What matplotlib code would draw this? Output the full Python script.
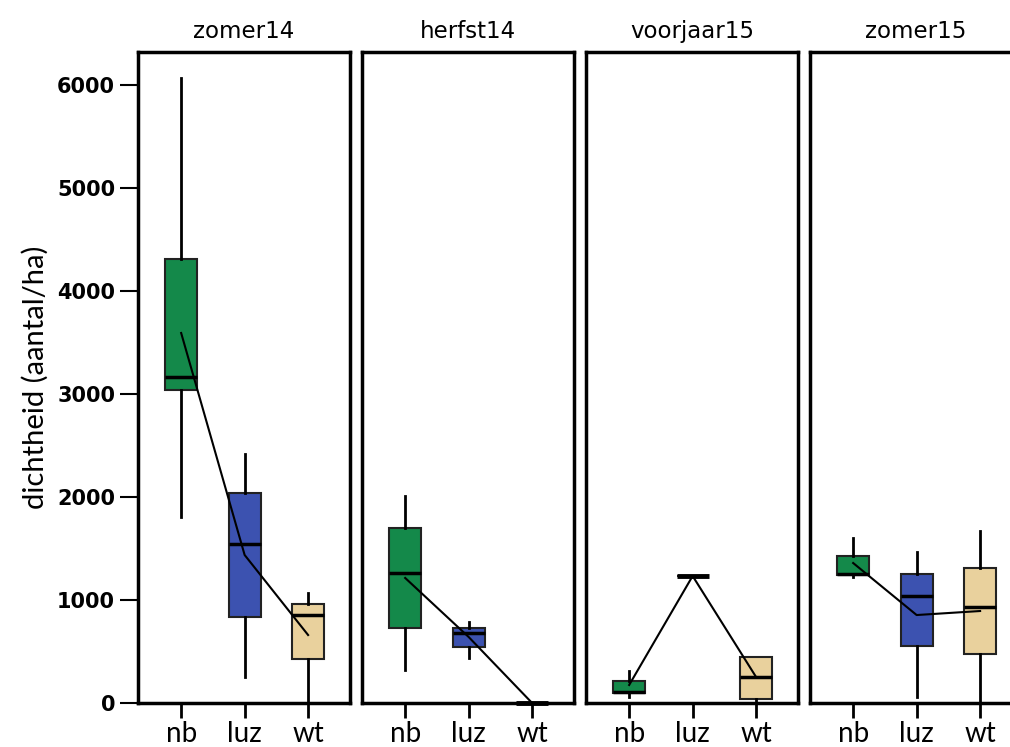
import matplotlib
matplotlib.use("Agg")
import matplotlib.pyplot as plt

# seizoenen en groepen
seizoenen = ['zomer14', 'herfst14', 'voorjaar15', 'zomer15']
groepen = ['nb', 'luz', 'wt']
kleuren = ['#14894a', '#3c52b0', '#e9d19d']

# per seizoen: [nb, luz, wt] -> (min, q1, mediaan, q3, max)
zomer14 = [(1806, 3039, 3165, 4310, 6068), (252, 835, 1544, 2039, 2417), (0, 427, 854, 961, 1068)]
herfst14 = [(320, 728, 1262, 1699, 2010), (437, 544, 680, 728, 786), (0, 0, 0, 0, 0)]
voorjaar15 = [(58, 97, 107, 214, 311), (1233, 1233, 1233, 1233, 1233), (0, 39, 252, 447, 447)]
zomer15 = [(1223, 1243, 1252, 1427, 1602), (58, 553, 1039, 1252, 1466), (0, 476, 932, 1311, 1670)]

# gemiddelden (lijn)
gem_zomer14 = [3592, 1437, 660]
gem_herfst14 = [1214, 641, 0]
gem_voorjaar15 = [175, 1233, 252]
gem_zomer15 = [1359, 854, 893]

data = [zomer14, herfst14, voorjaar15, zomer15]
gemiddelden = [gem_zomer14, gem_herfst14, gem_voorjaar15, gem_zomer15]

fig = plt.figure(figsize=(10.1, 7.47), dpi=100)
W, H = 1010, 747
lefts = [138, 362, 586, 810]

for i, seizoen in enumerate(seizoenen):
    ax = fig.add_axes([lefts[i] / W, (H - 703) / H, 212 / W, (703 - 52) / H])
    stats = []
    for g, (mn, q1, med, q3, mx) in zip(groepen, data[i]):
        stats.append({'label': g, 'whislo': mn, 'q1': q1, 'med': med, 'q3': q3, 'whishi': mx})
    bp = ax.bxp(stats, positions=[1, 2, 3], widths=0.5, patch_artist=True,
                showfliers=False, showcaps=False,
                boxprops=dict(linewidth=1.5, edgecolor='#222222'),
                whiskerprops=dict(linewidth=2, color='black'),
                medianprops=dict(linewidth=2.5, color='black'))
    for box, kleur in zip(bp['boxes'], kleuren):
        box.set_facecolor(kleur)
        box.set_clip_on(False)
    for m, st in zip(bp['medians'], stats):
        m.set_clip_on(False)
        m.set_zorder(6)
        if st['q1'] == st['q3']:
            m.set_linewidth(3.5)
    ax.plot([1, 2, 3], gemiddelden[i], color='black', linewidth=1.5, zorder=5, clip_on=False)

    ax.set_xlim(0.32, 3.66)
    ax.set_ylim(0, 6320)
    ax.set_title(seizoen, fontsize=16.5, family='DejaVu Sans', pad=10)
    ax.set_xticks([1, 2, 3])
    ax.set_xticklabels(groepen, fontsize=20, family='Lato')
    ax.tick_params(axis='x', length=11, width=2, pad=2)
    for s in ax.spines.values():
        s.set_linewidth(2.5)
    if i == 0:
        ax.set_yticks([0, 1000, 2000, 3000, 4000, 5000, 6000])
        ax.tick_params(axis='y', length=13, width=1.5, labelsize=15)
        for lab in ax.get_yticklabels():
            lab.set_fontweight('bold')
        ax.set_ylabel('dichtheid (aantal/ha)', fontsize=21, family='Lato', labelpad=6)
    else:
        ax.set_yticks([])

fig.savefig('out.png', dpi=100)
